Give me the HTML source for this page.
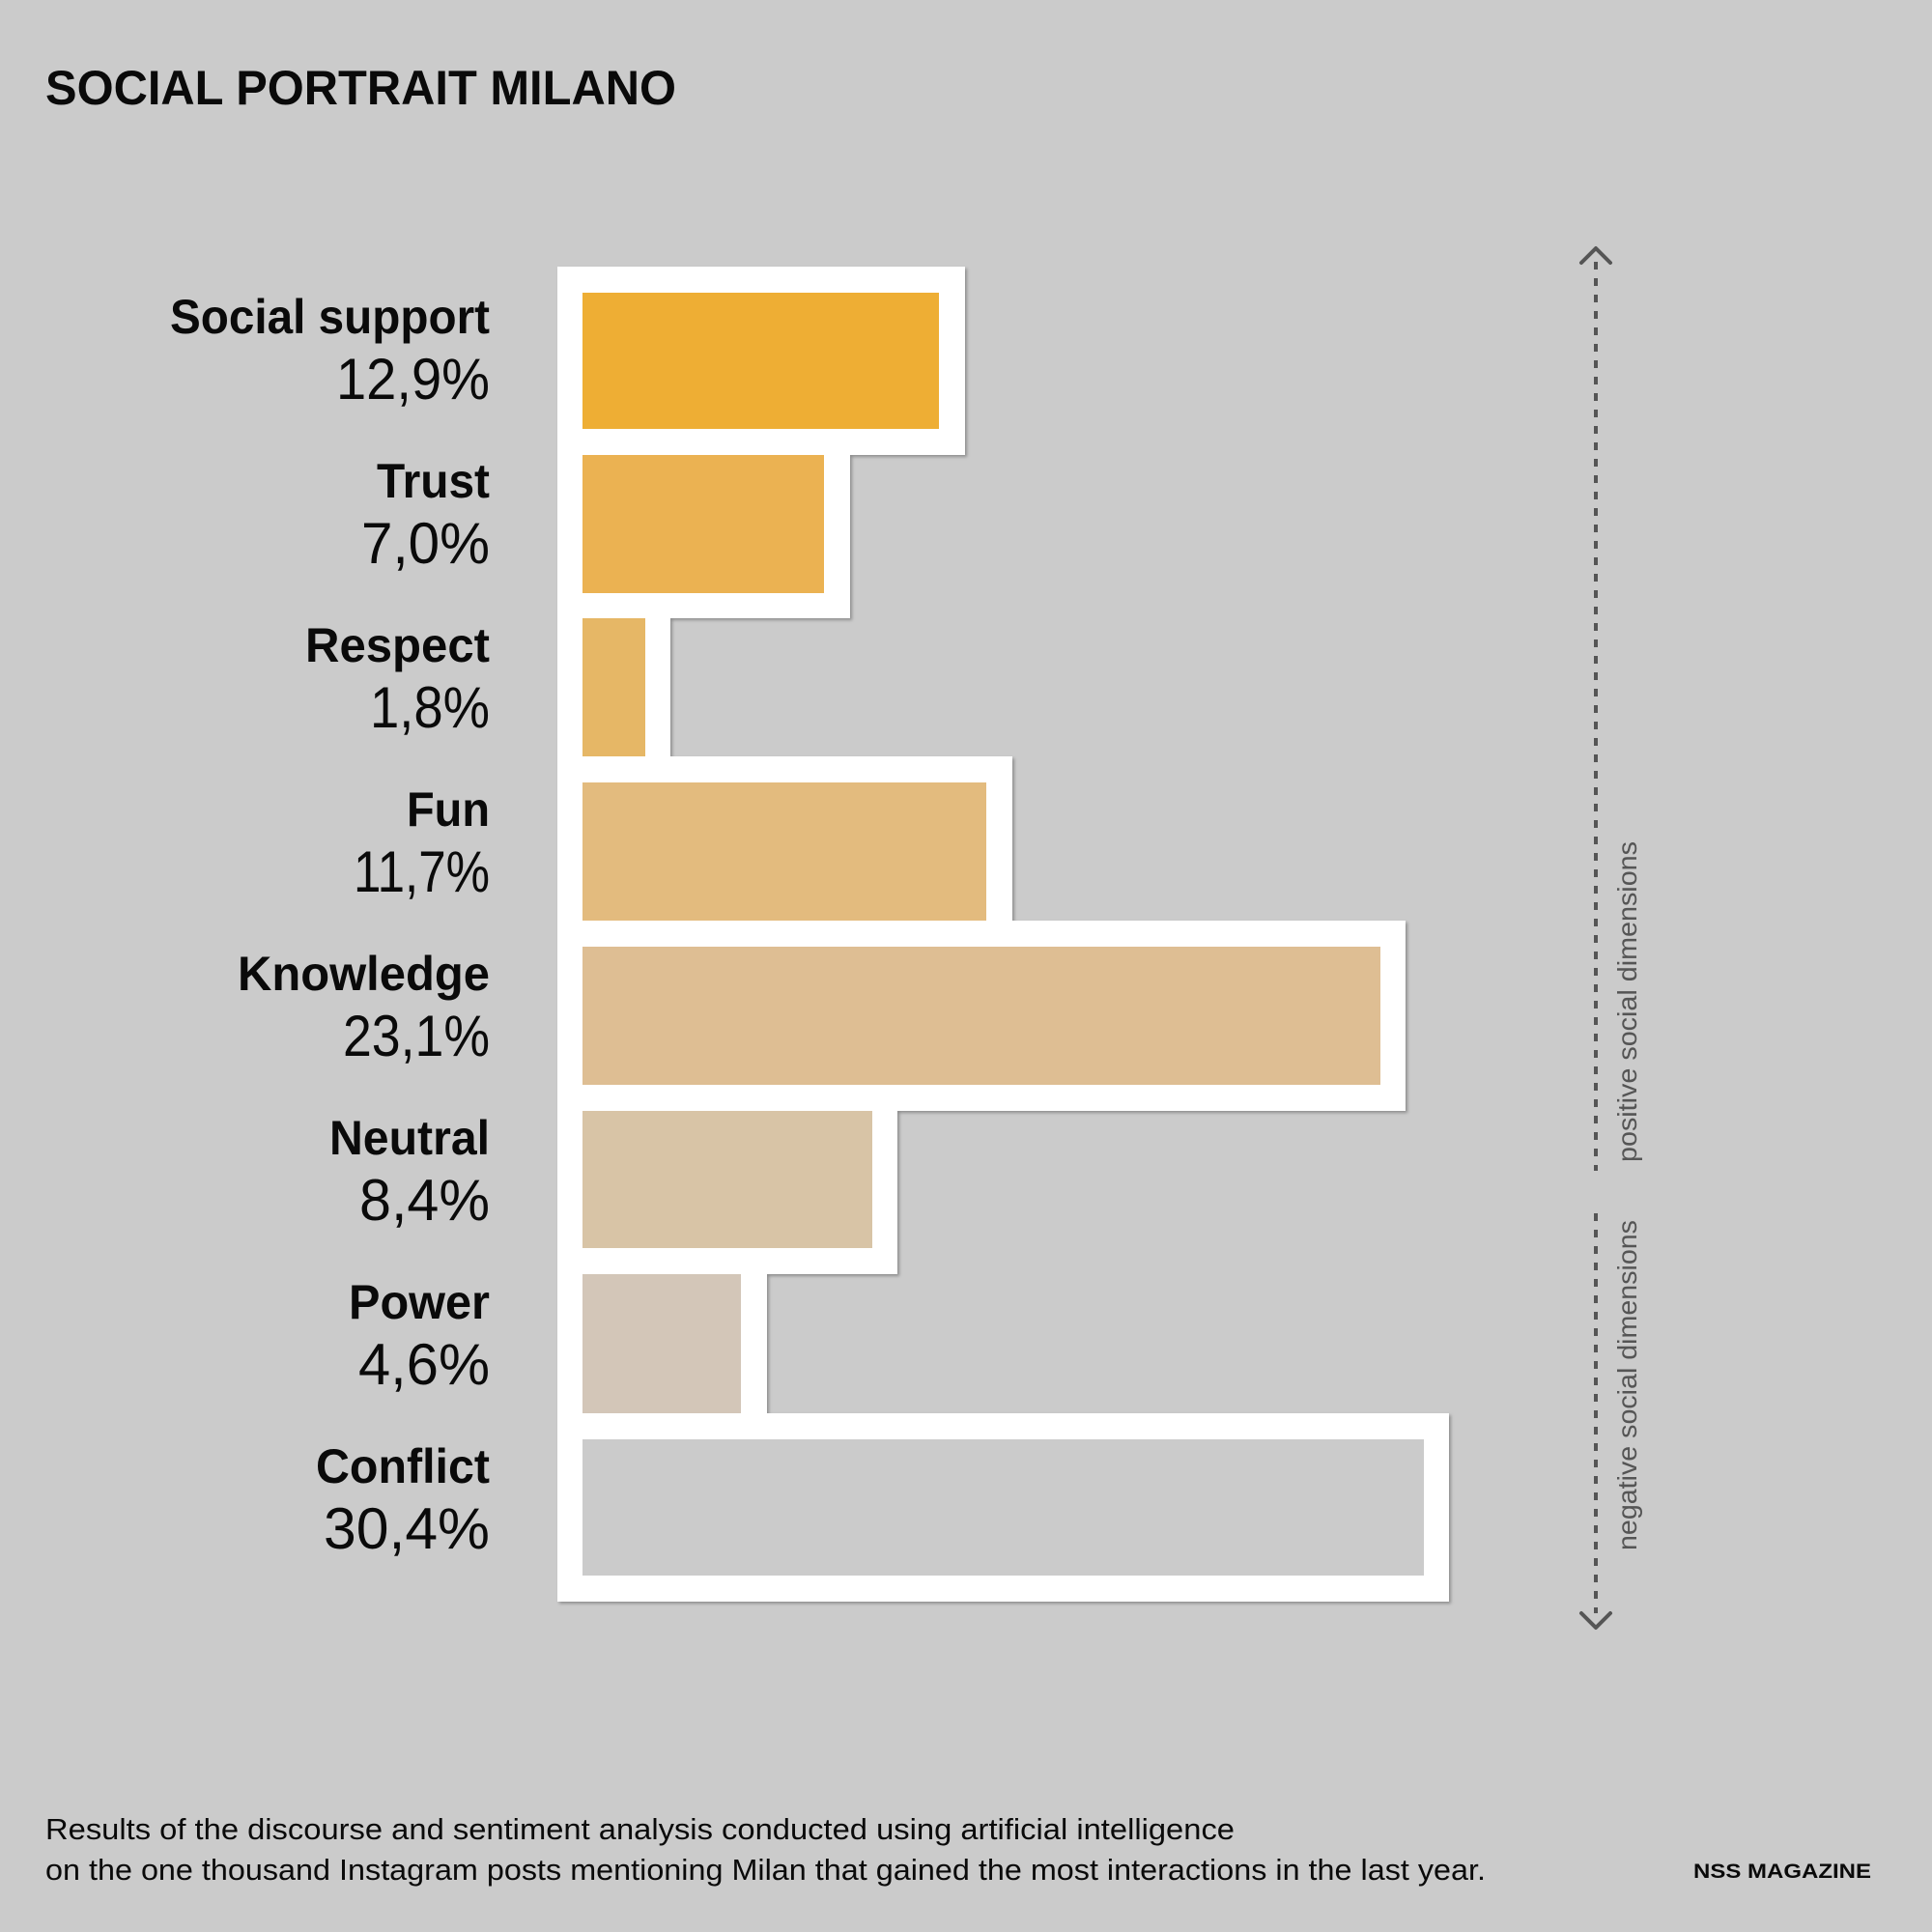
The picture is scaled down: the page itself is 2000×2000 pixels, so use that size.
<!DOCTYPE html>
<html><head><meta charset="utf-8"><style>
html,body{margin:0;padding:0;background:#cbcbcb;}
svg{display:block;}
text{font-family:"Liberation Sans",Arial,sans-serif;fill:#0a0a0a;}
</style></head><body>
<svg width="2000" height="2000" viewBox="0 0 2000 2000" xmlns="http://www.w3.org/2000/svg">
<defs>
<filter id="sh" x="-5%" y="-5%" width="110%" height="110%">
<feDropShadow dx="2" dy="2" stdDeviation="1.5" flood-color="#000" flood-opacity="0.3"/>
</filter>
</defs>
<rect width="2000" height="2000" fill="#cbcbcb"/>
<text x="47" y="108" font-size="50" font-weight="bold" textLength="653" lengthAdjust="spacingAndGlyphs">SOCIAL PORTRAIT MILANO</text>

<g filter="url(#sh)" fill="#fff">
<rect x="577" y="276" width="422" height="195"/>
<rect x="577" y="444" width="303" height="196"/>
<rect x="577" y="614" width="117" height="196"/>
<rect x="577" y="783" width="471" height="197"/>
<rect x="577" y="953" width="878" height="197"/>
<rect x="577" y="1123" width="352" height="196"/>
<rect x="577" y="1292" width="217" height="198"/>
<rect x="577" y="1463" width="923" height="195"/>
</g>
<g fill="#fff">
<rect x="577" y="276" width="422" height="195"/>
<rect x="577" y="444" width="303" height="196"/>
<rect x="577" y="614" width="117" height="196"/>
<rect x="577" y="783" width="471" height="197"/>
<rect x="577" y="953" width="878" height="197"/>
<rect x="577" y="1123" width="352" height="196"/>
<rect x="577" y="1292" width="217" height="198"/>
<rect x="577" y="1463" width="923" height="195"/>
</g>
<rect x="603" y="303" width="369" height="141" fill="#eeae34"/>
<rect x="603" y="471" width="250" height="143" fill="#ebb252"/>
<rect x="603" y="640" width="65" height="143" fill="#e6b766"/>
<rect x="603" y="810" width="418" height="143" fill="#e3bb7e"/>
<rect x="603" y="980" width="826" height="143" fill="#debe93"/>
<rect x="603" y="1150" width="300" height="142" fill="#d8c4a6"/>
<rect x="603" y="1319" width="164" height="144" fill="#d3c6b8"/>
<rect x="603" y="1490" width="871" height="141" fill="#cbcbcb"/>

<g text-anchor="end">
<text x="507" y="345" font-size="50" font-weight="bold" textLength="331" lengthAdjust="spacingAndGlyphs">Social support</text>
<text x="507" y="413" font-size="60" textLength="159" lengthAdjust="spacingAndGlyphs">12,9%</text>
<text x="507" y="515" font-size="50" font-weight="bold" textLength="117" lengthAdjust="spacingAndGlyphs">Trust</text>
<text x="507" y="583" font-size="60" textLength="133" lengthAdjust="spacingAndGlyphs">7,0%</text>
<text x="507" y="685" font-size="50" font-weight="bold" textLength="191" lengthAdjust="spacingAndGlyphs">Respect</text>
<text x="507" y="753" font-size="60" textLength="124" lengthAdjust="spacingAndGlyphs">1,8%</text>
<text x="507" y="855" font-size="50" font-weight="bold" textLength="86" lengthAdjust="spacingAndGlyphs">Fun</text>
<text x="507" y="923" font-size="60" textLength="141" lengthAdjust="spacingAndGlyphs">11,7%</text>
<text x="507" y="1025" font-size="50" font-weight="bold" textLength="261" lengthAdjust="spacingAndGlyphs">Knowledge</text>
<text x="507" y="1093" font-size="60" textLength="152" lengthAdjust="spacingAndGlyphs">23,1%</text>
<text x="507" y="1195" font-size="50" font-weight="bold" textLength="166" lengthAdjust="spacingAndGlyphs">Neutral</text>
<text x="507" y="1263" font-size="60" textLength="135" lengthAdjust="spacingAndGlyphs">8,4%</text>
<text x="507" y="1365" font-size="50" font-weight="bold" textLength="146" lengthAdjust="spacingAndGlyphs">Power</text>
<text x="507" y="1433" font-size="60" textLength="136" lengthAdjust="spacingAndGlyphs">4,6%</text>
<text x="507" y="1535" font-size="50" font-weight="bold" textLength="180" lengthAdjust="spacingAndGlyphs">Conflict</text>
<text x="507" y="1603" font-size="60" textLength="172" lengthAdjust="spacingAndGlyphs">30,4%</text>
</g>

<g stroke="#555" stroke-width="4" fill="none">
<line x1="1652" y1="271" x2="1652" y2="1212" stroke-dasharray="8,9"/>
<line x1="1652" y1="1256" x2="1652" y2="1670" stroke-dasharray="8,9"/>
<polyline points="1637,272 1652,257 1667,272" stroke-linecap="round" stroke-linejoin="round"/>
<polyline points="1637,1670 1652,1685 1667,1670" stroke-linecap="round" stroke-linejoin="round"/>
</g>
<text transform="translate(1694,1203) rotate(-90)" font-size="28" style="fill:#555" textLength="332" lengthAdjust="spacingAndGlyphs">positive social dimensions</text>
<text transform="translate(1694,1605) rotate(-90)" font-size="28" style="fill:#555" textLength="342" lengthAdjust="spacingAndGlyphs">negative social dimensions</text>

<text x="47" y="1904" font-size="31" textLength="1231" lengthAdjust="spacingAndGlyphs">Results of the discourse and sentiment analysis conducted using artificial intelligence</text>
<text x="47" y="1946" font-size="31" textLength="1491" lengthAdjust="spacingAndGlyphs">on the one thousand Instagram posts mentioning Milan that gained the most interactions in the last year.</text>
<text x="1753" y="1944" font-size="21" font-weight="bold" textLength="184" lengthAdjust="spacingAndGlyphs">NSS MAGAZINE</text>
</svg>
</body></html>
